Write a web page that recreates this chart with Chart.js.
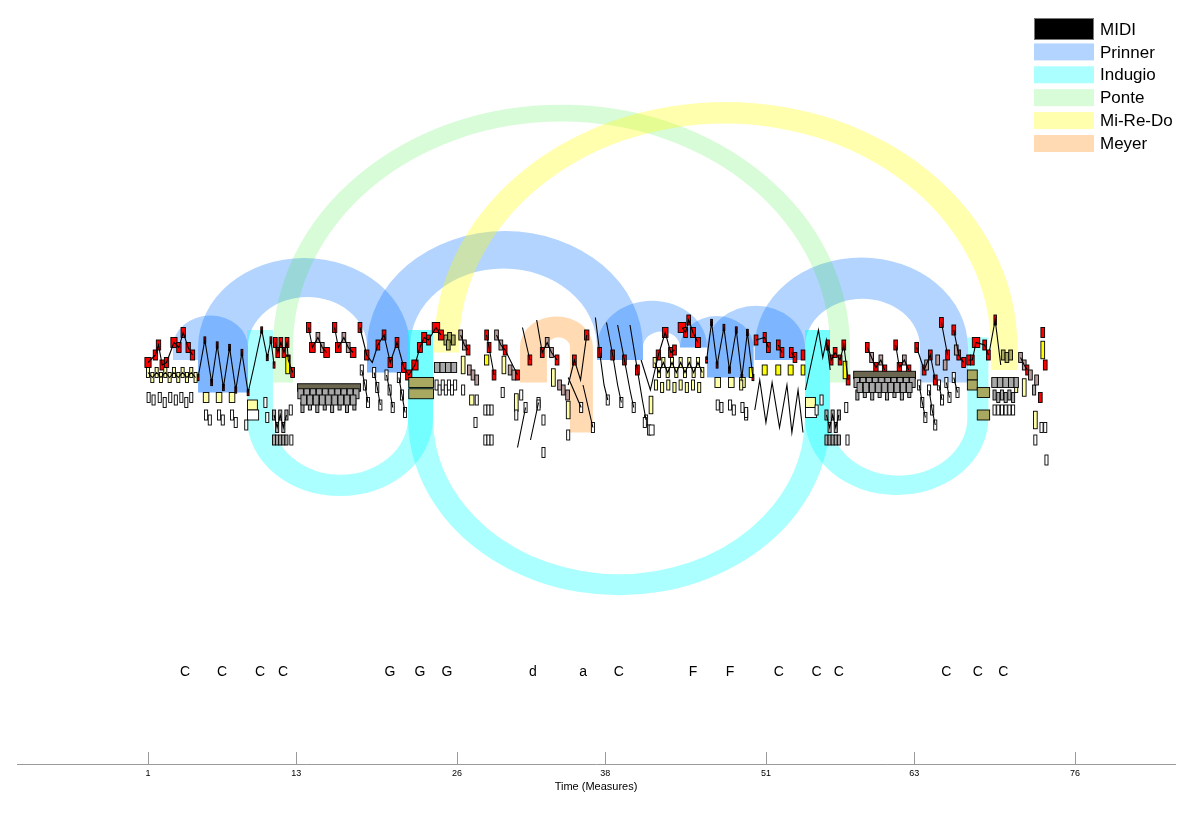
<!DOCTYPE html>
<html>
<head>
<meta charset="utf-8">
<script src="https://cdn.jsdelivr.net/npm/chart.js@4.4.1/dist/chart.umd.min.js"></script>
<style>
  html, body { margin: 0; padding: 0; background: #fff; }
</style>
</head>
<body>
<canvas id="arcplot" width="1200" height="828"></canvas>
<script>
// axis
const tickMeasures = [1, 13, 26, 38, 51, 63, 76];

// key areas written under the piece
const keyNames = ['C', 'C', 'C', 'C', 'G', 'G', 'G', 'd', 'a', 'C', 'F', 'F', 'C', 'C', 'C', 'C', 'C', 'C'];
const keyMeasures = [4.0, 7.0, 10.06, 11.92, 20.58, 23.0, 25.19, 32.15, 36.2, 39.1, 45.1, 48.1, 52.05, 55.1, 56.9, 65.6, 68.15, 70.2];

// schema instances: [start measure, end measure, far pitch of the block]
const prinner = [[3.02, 5.05, 72], [5.05, 9.09, 59], [18.72, 22.2, 67], [37.33, 41.05, 72], [44.04, 46.23, 77], [46.23, 50.0, 65], [50.1, 54.16, 72], [63.46, 67.34, 63]];
const indugio = [[9.01, 11.11, 84], [22.04, 24.06, 84], [54.16, 56.18, 84], [67.3, 69.0, 81]];
const ponte = [[11.11, 12.73, 63], [56.18, 57.8, 63]];
const miReDo = [[24.14, 26.16, 75], [69.2, 71.35, 68]];
const meyer = [[31.1, 33.28, 63], [35.14, 37.0, 43]];

// MIDI notes: [measure, pitch, kind, duration]; null breaks a voice line
const melody = [
  [1.0, 71, 'r', 0.5], [1.6, 74, 'r'], [1.85, 78, 'r'], [2.15, 70, 'r'], [2.5, 71, 'r'], [3.1, 79, 'r', 0.5], [3.5, 77, 'r'], [3.85, 83, 'r'], [4.25, 77, 'r'], [4.6, 74, 'r'], null,
  [11.3, 79, 'r', 0.3], [11.5, 75, 'r', 0.3], [11.75, 79, 'r', 0.3], [12.0, 75, 'r', 0.3], [12.25, 79, 'r', 0.3], [12.35, 72, 'r', 0.3], [12.7, 67, 'r', 0.3], null,
  [14.0, 85, 'r'], [14.3, 77, 'r', 0.45], [14.75, 81, 'm'], [15.1, 77, 'm'], [15.45, 75, 'r', 0.45], null,
  [16.1, 85, 'r'], [16.4, 77, 'r', 0.45], [16.85, 81, 'm'], [17.2, 77, 'm'], [17.6, 75, 'r', 0.45], null,
  [18.15, 85, 'r', 0.3], [18.7, 74, 'r'], [19.15, 71, 'k'], [19.6, 78, 'r', 0.3], [20.1, 82, 'r', 0.3], [20.6, 71, 'r'], [21.15, 79, 'r', 0.3], [21.7, 69, 'r'],
  [22.1, 66, 'r', 0.5], [22.6, 70, 'r', 0.5], [23.0, 77, 'r', 0.4], [23.35, 81, 'r', 0.4], [23.7, 80, 'r', 0.3], [24.3, 85, 'r', 0.6], [24.7, 82, 'r', 0.4], null,
  [26.3, 82, 'm', 0.3], [26.6, 78, 'm', 0.3], [26.9, 76, 'r', 0.3], null,
  [28.4, 82, 'r', 0.3], [28.6, 77, 'r', 0.3], [29.0, 66, 'r', 0.3], null,
  [29.2, 82, 'm', 0.3], [29.55, 78, 'm', 0.3], [29.9, 76, 'r', 0.3], [30.9, 66, 'r', 0.3], null,
  [31.3, 85, 'k'], [31.9, 72, 'r', 0.3], null,
  [32.45, 88, 'k'], [32.9, 75, 'r', 0.3], [33.3, 79, 'm', 0.3], [33.65, 75, 'm', 0.3], [34.1, 72, 'r', 0.3], null,
  [35.0, 62, 'k'], [35.5, 72, 'r', 0.3], [36.0, 64, 'k'], [36.5, 82, 'r', 0.35], null,
  [37.2, 89, 'k'], [37.55, 75, 'r', 0.3], [37.9, 62, 'k'], [38.2, 56, 'w'], null,
  [38.1, 87, 'k'], [38.6, 74, 'r', 0.3], [39.0, 62, 'k'], [39.3, 55, 'w'], null,
  [39.0, 86, 'k'], [39.55, 72, 'r', 0.3], [40.0, 60, 'k'], [40.3, 53, 'w'], null,
  [40.0, 86, 'k'], [40.6, 68, 'r', 0.3], [41.0, 56, 'k'], [41.3, 48, 'w'], null,
  [40.9, 72, 'k'], [41.65, 60, 'k'], [42.3, 74, 'r', 0.35], [42.85, 83, 'r', 0.45], [43.3, 75, 'r', 0.35], [43.6, 76, 'r', 0.3], null,
  [44.2, 85, 'r', 0.6], [44.5, 83, 'r', 0.3], [44.75, 88, 'r', 0.3], [45.1, 83, 'r', 0.4], [45.5, 79, 'r', 0.4], null,
  [50.2, 80, 'r', 0.3], [50.9, 81, 'r', 0.25], [51.2, 77, 'r', 0.3], null,
  [52.0, 78, 'r', 0.3], [52.3, 75, 'r', 0.3], null,
  [53.05, 75, 'r', 0.3], [53.35, 73, 'r', 0.3], null,
  [54.0, 74, 'r', 0.3], null,
  [54.2, 60, 'k'], [55.25, 84, 'k'], [55.6, 73, 'k'], [55.9, 80, 'k'], [56.2, 68, 'k'], null,
  [56.0, 78, 'r', 0.25], [56.3, 72, 'r', 0.25], [56.6, 75, 'r', 0.3], [57.0, 72, 'r', 0.3], [57.3, 78, 'r', 0.3], [57.65, 64, 'r', 0.3], null,
  [59.2, 77, 'r', 0.3], [59.55, 73, 'm', 0.3], [59.9, 69, 'r', 0.35], [60.3, 72, 'm', 0.3], [60.6, 68, 'r', 0.35], null,
  [61.5, 78, 'r', 0.3], [61.8, 69, 'r', 0.35], [62.2, 72, 'm', 0.3], [62.55, 68, 'r', 0.35], null,
  [63.2, 77, 'r', 0.3], [63.8, 68, 'r', 0.3], [64.3, 74, 'r', 0.3], [64.7, 64, 'r', 0.3], null,
  [65.2, 87, 'r', 0.3], [65.7, 74, 'r', 0.3], null,
  [66.2, 84, 'r', 0.3], [66.6, 74, 'r', 0.3], [67.0, 71, 'r', 0.3], null,
  [67.4, 72, 'r', 0.3], [67.7, 72, 'r', 0.3], [68.0, 79, 'r', 0.6], [68.7, 78, 'r', 0.3], [69.0, 74, 'r', 0.3], null,
  [69.1, 76, 'k'], [69.55, 88, 'r', 0.2], [70.0, 70, 'k'], null,
  [71.6, 73, 'm', 0.3], [71.9, 70, 'm', 0.3], [72.15, 68, 'r', 0.25], null,
  [73.4, 83, 'r', 0.3], null, [73.6, 70, 'r', 0.3], null, [73.2, 57, 'r', 0.3], null
];

const zigzag = [
  [5.05, 65, 'z'], [5.6, 80, 'z'], [6.15, 63, 'z'], [6.6, 78, 'z'], [7.1, 61, 'z'], [7.6, 77, 'z'], [8.1, 60, 'z'], [8.6, 75, 'z'], [9.1, 59, 'z'],
  [9.6, 70, 'k'], [10.2, 84, 'z'], [10.65, 73, 'z'], [10.95, 80, 'z'], [11.2, 70, 'z'], null,
  [46.2, 72, 'z'], [46.6, 87, 'z'], [47.05, 70, 'z'], [47.6, 85, 'z'], [48.05, 68, 'z'], [48.6, 84, 'z'], [49.05, 65, 'z'], [49.5, 83, 'z'], [49.95, 65, 'z'], null,
  [50.1, 52, 'k'], [50.5, 64, 'k'], [51.0, 47, 'k'], [51.5, 63, 'k'], [52.1, 45, 'k'], [52.7, 62, 'k'], [53.1, 43, 'k'], [53.6, 60, 'k'], [54.0, 43, 'k'], null
];

const crosses = [
  [1.0, 67, 'p'], [1.35, 65, 'p'], [1.7, 67, 'p'], [2.05, 65, 'p'], [2.4, 67, 'p'], [2.75, 65, 'p'], [3.1, 67, 'p'], [3.45, 65, 'p'], [3.8, 67, 'p'], [4.15, 65, 'p'], [4.5, 67, 'p'], [4.85, 65, 'p'], null,
  [42.0, 71, 'p'], [42.35, 67, 'p'], [42.7, 71, 'p'], [43.05, 67, 'p'], [43.4, 71, 'p'], [43.75, 67, 'p'], [44.1, 71, 'p'], [44.45, 67, 'p'], [44.8, 71, 'p'], [45.15, 67, 'p'], [45.5, 71, 'p'], [45.85, 67, 'p'], null
];

const runs = [
  [11.2, 50, 'g'], [11.45, 45, 'g'], [11.7, 50, 'g'], [11.95, 45, 'g'], [12.2, 50, 'g'], null,
  [18.3, 68, 'w'], [18.55, 62, 'w'], [18.8, 55, 'w'], null,
  [19.3, 67, 'w'], [19.55, 61, 'w'], [19.8, 54, 'w'], null,
  [20.3, 66, 'w'], [20.55, 60, 'w'], [20.8, 53, 'w'], null,
  [21.3, 65, 'w'], [21.55, 58, 'w'], [21.8, 51, 'w'], null,
  [30.9, 37, 'k'], [31.55, 53, 'w'], null,
  [31.95, 40, 'k'], [32.6, 55, 'w'], null,
  [35.0, 65, 'k'], [36.05, 53, 'w'], null,
  [36.2, 62, 'k'], [37.0, 45, 'w'], null,
  [55.9, 50, 'g'], [56.15, 45, 'g'], [56.4, 50, 'g'], [56.65, 45, 'g'], [56.9, 50, 'g'], null,
  [63.4, 62, 'w'], [63.65, 55, 'w'], [63.9, 49, 'w'], null,
  [64.2, 60, 'w'], [64.45, 52, 'w'], [64.7, 46, 'w'], null,
  [65.0, 62, 'w'], [65.25, 56, 'w'], null,
  [65.6, 63, 'w'], [65.85, 57, 'w'], null,
  [66.2, 65, 'w'], [66.5, 59, 'w'], null
];

const accomp = [
  [1.05, 57, 'w'], [1.45, 56, 'w'], [1.95, 57, 'w'], [2.35, 55, 'w'], [2.8, 57, 'w'], [3.25, 56, 'w'], [3.7, 57, 'w'], [4.1, 55, 'w'], [4.5, 57, 'w'],
  [5.7, 57, 'p', 0.45], [6.75, 57, 'p', 0.45], [7.8, 57, 'p', 0.45],
  [5.7, 50, 'w'], [6.0, 48, 'w'], [6.75, 50, 'w'], [7.05, 48, 'w'], [7.8, 50, 'w'], [8.1, 47, 'w'],
  [9.45, 54, 'p', 0.8], [9.5, 50, 'w', 0.9], [8.95, 46, 'w'], [10.5, 55, 'w'], [10.65, 49, 'w'],
  [11.2, 40, 'g'], [11.45, 40, 'g'], [11.7, 40, 'g'], [11.95, 40, 'g'], [12.2, 40, 'g'], [12.55, 52, 'w'], [12.6, 40, 'w'], [12.3, 70, 'Y'],
  [13.5, 53, 'g'], [14.1, 54, 'g'], [14.7, 53, 'g'], [15.3, 54, 'g'], [15.9, 53, 'g'], [16.5, 54, 'g'], [17.1, 53, 'g'], [17.7, 54, 'g'],
  [24.35, 62, 'w'], [24.6, 60, 'w'], [24.85, 62, 'w'], [25.1, 60, 'w'], [25.35, 62, 'w'], [25.6, 60, 'w'], [25.85, 62, 'w'],
  [25.1, 80, 'o', 0.3], [25.4, 81, 'o', 0.3], [25.7, 80, 'o', 0.3], [25.3, 78, 'o', 0.3],
  [26.5, 70, 'P'], [27.2, 56, 'p', 0.35], [29.8, 70, 'P'], [30.8, 55, 'P'], [28.4, 72, 'y'],
  [27.0, 68, 'm'], [27.3, 66, 'm'], [27.6, 64, 'm'], [30.3, 68, 'm'], [30.6, 66, 'm'],
  [26.5, 60, 'w'], [27.5, 47, 'w'], [28.3, 52, 'w'], [28.55, 52, 'w'], [28.8, 52, 'w'], [28.3, 40, 'w'], [28.55, 40, 'w'], [28.8, 40, 'w'], [29.7, 59, 'w'], [30.8, 50, 'w'], [27.6, 56, 'w'],
  [33.8, 65, 'P'], [35.0, 52, 'P'], [34.3, 62, 'm'], [34.6, 60, 'm'], [34.95, 58, 'm'],
  [33.0, 35, 'w'], [33.0, 48, 'w'], [32.6, 54, 'w'], [35.0, 42, 'w'], [31.2, 58, 'w'],
  [41.7, 54, 'P'], [41.2, 47, 'w'], [41.55, 44, 'w'], [41.75, 44, 'w', 0.4],
  [42.1, 62, 'p'], [42.6, 61, 'p'], [43.1, 62, 'p'], [43.6, 61, 'p'], [44.1, 62, 'p'], [44.6, 61, 'p'], [45.1, 62, 'p'], [45.6, 61, 'p'],
  [47.1, 63, 'p', 0.45], [48.2, 63, 'p', 0.45], [49.1, 63, 'p', 0.45],
  [47.1, 54, 'w'], [47.4, 53, 'w'], [48.1, 54, 'w'], [48.4, 52, 'w'], [49.1, 53, 'w'], [49.4, 50, 'w'],
  [49.8, 67, 'y', 0.3], [50.9, 68, 'y', 0.4], [52.0, 68, 'y', 0.4], [53.0, 68, 'y', 0.4], [54.0, 68, 'y', 0.3], [49.0, 62, 'p'], [49.4, 51, 'w'],
  [54.6, 55, 'p', 0.8], [54.65, 51, 'w', 0.9], [55.1, 52, 'w'], [55.5, 56, 'w'],
  [55.9, 40, 'g'], [56.15, 40, 'g'], [56.4, 40, 'g'], [56.65, 40, 'g'], [56.9, 40, 'g'], [57.5, 53, 'w'], [57.6, 40, 'w'], [57.4, 68, 'Y'],
  [58.4, 58, 'g'], [59.0, 59, 'g'], [59.6, 58, 'g'], [60.2, 59, 'g'], [60.8, 58, 'g'], [61.4, 59, 'g'], [62.0, 58, 'g'], [62.6, 59, 'g'],
  [64.0, 70, 'm'], [64.9, 72, 'm'], [65.5, 70, 'm'], [66.4, 76, 'm'],
  [69.5, 58, 'g'], [69.8, 57, 'g'], [70.1, 58, 'g'], [70.4, 57, 'g'], [70.7, 58, 'g'], [71.0, 57, 'g'],
  [69.5, 52, 'w'], [69.8, 52, 'w'], [70.1, 52, 'w'], [70.4, 52, 'w'], [70.7, 52, 'w'], [71.0, 52, 'w'], [71.25, 61, 'p'],
  [70.2, 74, 'o', 0.3], [70.5, 73, 'o', 0.3], [70.8, 74, 'o', 0.3],
  [71.9, 61, 'P'], [72.7, 60, 'g'], [73.4, 76, 'Y'], [72.8, 48, 'P'], [73.3, 45, 'w'], [73.6, 45, 'w'], [72.8, 40, 'w'], [73.7, 32, 'w'], [72.4, 66, 'm'], [72.9, 64, 'm']
];

// sustained / repeated chord notes
const blocks = [
  [15.65, 61, 'd', 5.1],
  [13.35, 58.5, 'g', 0.45], [13.85, 58.5, 'g', 0.45], [14.35, 58.5, 'g', 0.45], [14.85, 58.5, 'g', 0.45], [15.35, 58.5, 'g', 0.45],
  [15.85, 58.5, 'g', 0.45], [16.35, 58.5, 'g', 0.45], [16.85, 58.5, 'g', 0.45], [17.35, 58.5, 'g', 0.45], [17.85, 58.5, 'g', 0.45],
  [13.6, 56, 'g', 0.45], [14.1, 56, 'g', 0.45], [14.6, 56, 'g', 0.45], [15.1, 56, 'g', 0.45], [15.6, 56, 'g', 0.45],
  [16.1, 56, 'g', 0.45], [16.6, 56, 'g', 0.45], [17.1, 56, 'g', 0.45], [17.6, 56, 'g', 0.45],
  [23.1, 63, 'o', 2.0], [23.1, 58.5, 'o', 2.0],
  [24.4, 69, 'g', 0.45], [24.85, 69, 'g', 0.45], [25.3, 69, 'g', 0.45], [25.75, 69, 'g', 0.45],
  [60.6, 66, 'd', 5.0],
  [58.35, 63, 'g', 0.45], [58.85, 63, 'g', 0.45], [59.35, 63, 'g', 0.45], [59.85, 63, 'g', 0.45], [60.35, 63, 'g', 0.45],
  [60.85, 63, 'g', 0.45], [61.35, 63, 'g', 0.45], [61.85, 63, 'g', 0.45], [62.35, 63, 'g', 0.45], [62.85, 63, 'g', 0.45],
  [58.6, 61, 'g', 0.45], [59.1, 61, 'g', 0.45], [59.6, 61, 'g', 0.45], [60.1, 61, 'g', 0.45], [60.6, 61, 'g', 0.45],
  [61.1, 61, 'g', 0.45], [61.6, 61, 'g', 0.45], [62.1, 61, 'g', 0.45], [62.6, 61, 'g', 0.45],
  [67.7, 66, 'o', 0.8], [67.7, 62, 'o', 0.8], [68.6, 59, 'o', 1.0], [68.6, 50, 'o', 1.0],
  [69.5, 63, 'g', 0.45], [69.95, 63, 'g', 0.45], [70.4, 63, 'g', 0.45], [70.85, 63, 'g', 0.45], [71.25, 63, 'g', 0.35]
];

// ---- look ----
const FONT = "'Liberation Sans', Arial, Helvetica, sans-serif";
const X_MIN = -9.6, X_MAX = 84.1;
const Y_MIN = -89.6, Y_MAX = 216;
const UPPER_BASE = 77.2, LOWER_BASE = 48.8;
const ARC_ASPECT = 0.84;
const KEY_ROW = -53;

const kinds = {
  r: { fill: '#ff0000', dur: 0.35, h: 4 },
  m: { fill: '#b89c9c', dur: 0.3, h: 4 },
  z: { fill: '#ff0000', dur: 0.15, h: 2.5 },
  y: { fill: '#ffff00', dur: 0.35, h: 4 },
  Y: { fill: '#ffff00', dur: 0.3, h: 7 },
  p: { fill: '#ffffa8', dur: 0.25, h: 4 },
  P: { fill: '#ffffa8', dur: 0.3, h: 7 },
  w: { fill: '#ffffff', dur: 0.25, h: 4 },
  g: { fill: '#a8a8a8', dur: 0.25, h: 4 },
  d: { fill: '#6b6650', dur: 1, h: 3 },
  o: { fill: '#a8a860', dur: 0.4, h: 4 }
};

const schemas = [
  { name: 'Prinner', items: prinner, color: 'rgba(0,114,255,0.3)', side: 'up' },
  { name: 'Indugio', items: indugio, color: 'rgba(0,255,255,0.33)', side: 'down' },
  { name: 'Ponte', items: ponte, color: 'rgba(40,235,40,0.18)', side: 'up' },
  { name: 'Mi-Re-Do', items: miReDo, color: 'rgba(255,255,0,0.32)', side: 'up' },
  { name: 'Meyer', items: meyer, color: 'rgba(255,140,20,0.32)', side: 'up' }
];

function toPoints(notes) {
  const out = [];
  let lastX = 0;
  notes.forEach(function (n) {
    if (n === null) {
      out.push({ x: lastX, y: null });
    } else {
      lastX = n[0];
      out.push({ x: n[0], y: n[1], kind: n[2], dur: n[3] });
    }
  });
  return out;
}

function voice(label, notes, linked) {
  return {
    label: label,
    data: toPoints(notes),
    showLine: linked,
    borderColor: '#000',
    borderWidth: 1.1,
    pointRadius: 0,
    tension: 0,
    spanGaps: false
  };
}

const arcPlugin = {
  id: 'schemaArcs',
  beforeDatasetsDraw(chart) {
    const ctx = chart.ctx;
    const x = chart.scales.x, y = chart.scales.y;

    // schema arcs
    schemas.forEach(function (s) {
      const base = s.side === 'up' ? UPPER_BASE : LOWER_BASE;
      const yb = y.getPixelForValue(base);
      ctx.save();
      ctx.fillStyle = s.color;
      for (let i = 0; i < s.items.length - 1; i++) {
        const a = s.items[i], b = s.items[i + 1];
        [a, b].forEach(function (inst) {
          const x0 = x.getPixelForValue(inst[0]), x1 = x.getPixelForValue(inst[1]);
          const yf = y.getPixelForValue(inst[2]);
          ctx.fillRect(x0, Math.min(yb, yf), x1 - x0, Math.abs(yf - yb));
        });
        const x1 = x.getPixelForValue(a[0]), x2 = x.getPixelForValue(a[1]);
        const x3 = x.getPixelForValue(b[0]), x4 = x.getPixelForValue(b[1]);
        const rxO = (x4 - x1) / 2, rxI = Math.max(0, (x3 - x2) / 2);
        const cxO = (x1 + x4) / 2, cxI = (x2 + x3) / 2;
        ctx.beginPath();
        if (s.side === 'up') {
          ctx.ellipse(cxO, yb, rxO, rxO * ARC_ASPECT, 0, Math.PI, 2 * Math.PI, false);
          ctx.lineTo(cxI + rxI, yb);
          ctx.ellipse(cxI, yb, rxI, rxI * ARC_ASPECT, 0, 2 * Math.PI, Math.PI, true);
        } else {
          ctx.ellipse(cxO, yb, rxO, rxO * ARC_ASPECT, 0, Math.PI, 0, true);
          ctx.lineTo(cxI + rxI, yb);
          ctx.ellipse(cxI, yb, rxI, rxI * ARC_ASPECT, 0, 0, Math.PI, false);
        }
        ctx.closePath();
        ctx.fill();
      }
      ctx.restore();
    });

    // note boxes
    ctx.save();
    ctx.lineWidth = 0.9;
    ctx.strokeStyle = '#000';
    chart.data.datasets.forEach(function (ds) {
      ds.data.forEach(function (pt) {
        if (pt.y === null || !kinds[pt.kind]) return;
        const k = kinds[pt.kind];
        const dur = pt.dur || k.dur;
        const x0 = x.getPixelForValue(pt.x - dur / 2), x1 = x.getPixelForValue(pt.x + dur / 2);
        const y0 = y.getPixelForValue(pt.y + k.h / 2), y1 = y.getPixelForValue(pt.y - k.h / 2);
        ctx.fillStyle = k.fill;
        ctx.fillRect(x0, y0, x1 - x0, y1 - y0);
        ctx.strokeRect(x0, y0, x1 - x0, y1 - y0);
      });
    });
    ctx.restore();
  },
  afterDraw(chart) {
    const ctx = chart.ctx;
    const x = chart.scales.x, y = chart.scales.y;
    const area = chart.chartArea;

    // tick marks standing on the axis
    ctx.save();
    ctx.strokeStyle = '#9a9a9a';
    ctx.lineWidth = 1;
    x.ticks.forEach(function (t) {
      const px = Math.round(x.getPixelForValue(t.value)) + 0.5;
      ctx.beginPath();
      ctx.moveTo(px, area.bottom - 12);
      ctx.lineTo(px, area.bottom);
      ctx.stroke();
    });
    ctx.restore();

    // key letters
    ctx.save();
    ctx.fillStyle = '#000';
    ctx.font = '14px ' + FONT;
    ctx.textAlign = 'center';
    ctx.textBaseline = 'middle';
    keyNames.forEach(function (k, i) {
      ctx.fillText(k, x.getPixelForValue(keyMeasures[i]), y.getPixelForValue(KEY_ROW));
    });
    ctx.restore();

    // legend
    ctx.save();
    ctx.font = '17px ' + FONT;
    ctx.textBaseline = 'middle';
    const entries = [{ name: 'MIDI', color: '#000' }].concat(schemas);
    entries.forEach(function (e, i) {
      const cy = 29 + i * 22.9;
      if (i === 0) {
        ctx.fillStyle = '#000';
        ctx.fillRect(1034, cy - 11, 60, 22);
        ctx.strokeStyle = '#777';
        ctx.strokeRect(1034.5, cy - 10.5, 59, 21);
      } else {
        ctx.fillStyle = e.color;
        ctx.fillRect(1034, cy - 8.5, 60, 17);
      }
      ctx.fillStyle = '#000';
      ctx.fillText(e.name, 1100, cy + 1);
    });
    ctx.restore();
  }
};

new Chart(
  document.getElementById('arcplot'),
  {
    type: 'line',
    data: {
      datasets: [
        voice('melody', melody, true),
        voice('zigzag', zigzag, true),
        voice('crosses', crosses, true),
        voice('runs', runs, true),
        voice('accomp', accomp, false),
        voice('blocks', blocks, false)
      ]
    },
    options: {
      responsive: false,
      animation: false,
      events: [],
      layout: { padding: { left: 17, right: 25, top: 0, bottom: 0 } },
      plugins: {
        legend: { display: false },
        tooltip: { enabled: false }
      },
      scales: {
        x: {
          type: 'linear',
          min: X_MIN,
          max: X_MAX,
          afterBuildTicks: function (scale) {
            scale.ticks = tickMeasures.map(function (v) { return { value: v }; });
          },
          afterFit: function (scale) {
            scale.height = 64;
          },
          grid: { display: false, drawTicks: false },
          border: { display: true, color: '#9a9a9a', width: 1 },
          ticks: {
            padding: 4,
            color: '#000',
            autoSkip: false,
            maxRotation: 0,
            font: { size: 9, family: FONT }
          },
          title: {
            display: true,
            text: 'Time (Measures)',
            color: '#000',
            font: { size: 11, family: FONT },
            padding: { top: 0, bottom: 34 }
          }
        },
        y: {
          type: 'linear',
          display: false,
          min: Y_MIN,
          max: Y_MAX
        }
      }
    },
    plugins: [arcPlugin]
  }
);
</script>
</body>
</html>
